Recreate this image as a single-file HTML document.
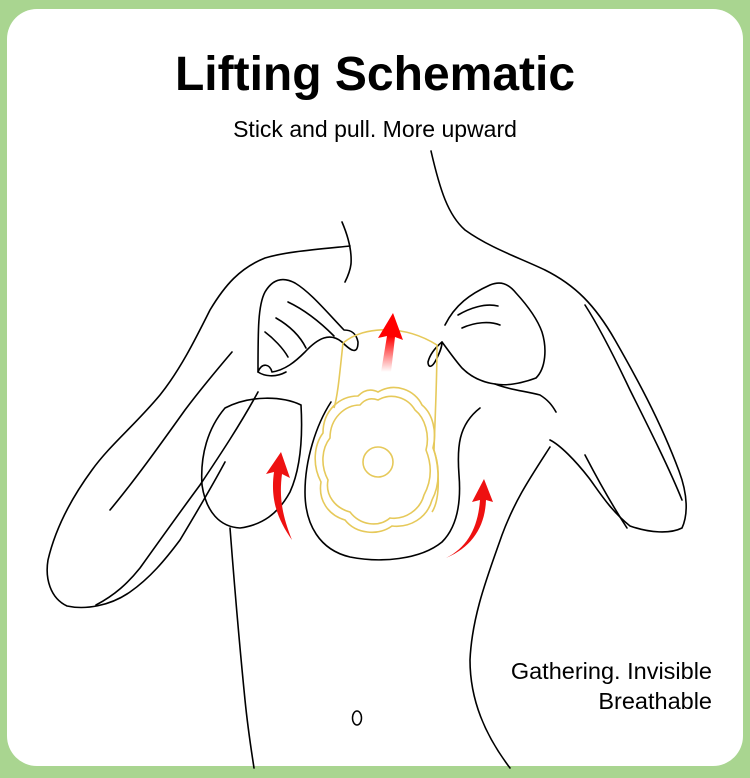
<!DOCTYPE html>
<html><head><style>
html,body{margin:0;padding:0;}
body{width:750px;height:778px;background:#a9d590;position:relative;overflow:hidden;font-family:"Liberation Sans",sans-serif;}
.card{position:absolute;left:7px;top:9px;width:736px;height:757px;background:#fff;border-radius:30px;}
h1{position:absolute;top:47px;left:0;width:750px;text-align:center;margin:0;font-size:48px;font-weight:bold;color:#000;}
.sub{position:absolute;top:116px;left:0;width:750px;text-align:center;font-size:23px;color:#000;}
.r{position:absolute;right:38px;font-size:23.5px;color:#000;text-align:right;}
svg{position:absolute;left:0;top:0;}
</style></head><body>
<div class="card"></div>
<svg width="750" height="778" viewBox="0 0 750 778">
<defs>
<linearGradient id="fade" x1="0" y1="1" x2="0" y2="0">
<stop offset="0" stop-color="#f00" stop-opacity="0"/><stop offset="0.6" stop-color="#f00" stop-opacity="1"/>
</linearGradient>
</defs>
<g fill="none" stroke="#000" stroke-width="1.6" stroke-linecap="round" stroke-linejoin="round">
<!-- neck left -->
<path d="M342 222 C348 236 352 250 351 264 C350 272 347 278 345 282"/>
<!-- left shoulder outer arm -->
<path d="M350 246 C310 250 285 252 265 258 C240 268 225 285 210 310 C195 340 180 370 160 395 C135 425 110 445 92 470 C70 500 55 530 48 560 C45 578 50 598 67 606 C85 610 110 606 130 592 C150 578 165 560 180 540 C195 515 210 490 225 462"/>
<!-- left inner arm lines -->
<path d="M96 605 C115 595 128 583 140 568 C160 540 180 512 200 485 C220 455 240 425 258 392"/>
<path d="M110 510 C135 480 160 445 185 410 C200 390 215 372 232 352"/>
<!-- left hand -->
<path d="M258 372 C262 362 270 364 272 372 C285 370 295 362 305 352 C318 338 330 332 342 342 C350 350 358 356 358 342 C356 332 350 330 344 330 C325 310 310 292 295 283 C282 276 272 280 265 292 C258 305 258 330 258 372"/>
<path d="M288 302 C305 310 320 322 334 336"/>
<path d="M276 318 C290 326 300 336 306 348"/>
<path d="M265 332 C273 338 283 348 288 357"/>
<path d="M258 372 C264 376 275 378 286 372"/>
<!-- right neck / arm -->
<path d="M431 151 C440 190 448 215 465 230 C490 248 520 258 545 270 C575 285 595 305 615 340 C635 375 660 420 679 471 C688 495 688 515 682 528 C670 534 650 533 630 526 C610 510 598 490 589 478 C575 460 560 445 550 440"/>
<!-- right arm inner lines -->
<path d="M682 500 C670 470 650 430 630 390 C612 352 598 325 585 305"/>
<path d="M627 528 C612 505 598 480 585 455"/>
<!-- right hand -->
<path d="M445 325 C455 305 470 294 490 285 C500 281 508 283 516 293 C527 305 537 318 542 332 C547 348 546 368 536 378 C520 384 505 386 495 384 C480 382 470 376 462 368 C455 360 448 350 442 342"/>
<path d="M442 342 C436 347 430 354 428 362 C428 368 432 368 436 360 C440 352 442 347 442 342"/>
<path d="M458 315 C470 308 485 303 498 306"/>
<path d="M462 328 C475 322 490 321 500 325"/>
<path d="M495 384 C510 390 525 391 540 395 C548 400 552 405 556 412"/>
<!-- left breast -->
<path d="M301 405 C282 396 250 395 225 408 C208 428 200 455 202 485 C206 512 220 527 240 528 C262 525 278 514 290 492 C300 470 303 440 301 405"/>
<!-- left torso -->
<path d="M230 528 C234 580 240 650 245 700 C248 730 251 748 254 768"/>
<!-- center breast -->
<path d="M331 402 C316 425 305 460 305 492 C305 525 320 550 350 557 C380 563 420 560 442 542 C458 526 461 500 459 475 C457 448 458 425 480 408"/>
<!-- right torso -->
<path d="M550 447 C530 478 515 500 502 535 C488 575 472 615 470 660 C470 700 485 735 510 768"/>
<!-- navel -->
<ellipse cx="357" cy="718" rx="4.5" ry="7" stroke-width="1.5"/>
</g>
<!-- patch -->
<g fill="none" stroke="#e6c95a" stroke-width="1.6">
<path d="M343 343 C365 325 405 325 437 345 C437 380 435 420 434 450 C440 470 440 500 432 512"/>
<path d="M343 343 C340 370 338 395 334 408"/>
<path d="M378 400 C392 392 408 398 415 410 C425 418 430 435 426 450 C432 465 432 480 424 495 C420 510 405 520 390 518 C378 528 360 525 350 512 C335 508 325 495 328 480 C320 465 322 448 330 438 C330 418 345 405 360 405 C366 398 372 398 378 400 Z"/>
<path d="M378 392 C395 382 415 390 422 405 C433 414 437 432 433 448 C440 465 440 485 432 500 C427 518 410 528 392 526 C378 536 356 534 345 520 C328 515 318 500 321 482 C312 465 314 445 323 433 C323 410 340 396 358 396 C365 389 372 389 378 392 Z"/>
<circle cx="378" cy="462" r="15"/>
</g>
<!-- arrows -->
<path d="M381 372 L387 336 L378 338 L393 313 L403 340 L395 337 L391 372 Z" fill="url(#fade)"/>
<path d="M292 540 C278 520 270 500 274 472 L266 474 L281 452 L290 478 L282 474 C279 497 282 515 292 540 Z" fill="#ee1111"/>
<path d="M446 558 C468 547 478 527 480 500 L472 502 L484 479 L493 502 L486 500 C485 527 472 547 446 558 Z" fill="#ee1111"/>
</svg>
<h1>Lifting Schematic</h1>
<div class="sub">Stick and pull. More upward</div>
<div class="r" style="top:658px">Gathering. Invisible</div>
<div class="r" style="top:688px">Breathable</div>
</body></html>
